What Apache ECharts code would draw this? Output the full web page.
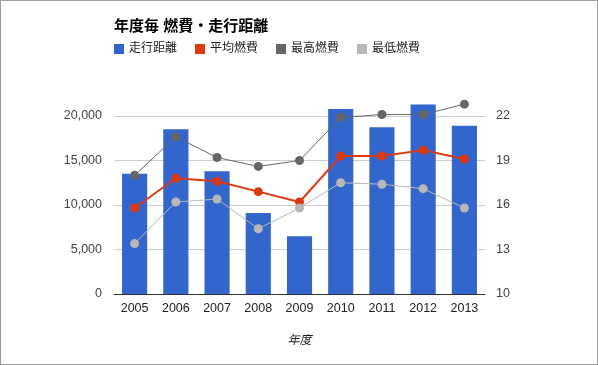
<!DOCTYPE html>
<html><head><meta charset="utf-8">
<script src="https://cdn.jsdelivr.net/npm/echarts@6/dist/echarts.min.js"></script>
<style>
html,body{margin:0;padding:0;background:#fff;}
#wrap{position:relative;width:598px;height:365px;}
#c{width:598px;height:365px;}
#frame{position:absolute;left:0;top:0;width:598px;height:365px;box-sizing:border-box;border:1px solid #9e9e9e;pointer-events:none;}
</style></head>
<body><div id="wrap"><div id="c"></div><div id="frame"></div></div>
<script>
const years = ['2005','2006','2007','2008','2009','2010','2011','2012','2013'];
const distance = [13500, 18500, 13800, 9100, 6500, 20800, 18750, 21300, 18900];
const avgFuel = [15.8, 17.8, 17.6, 16.9, 16.2, 19.3, 19.3, 19.7, 19.1];
const maxFuel = [18.0, 20.6, 19.2, 18.6, 19.0, 21.9, 22.1, 22.1, 22.8];
const minFuel = [13.4, 16.2, 16.4, 14.4, 15.8, 17.5, 17.4, 17.1, 15.8];
const seriesNames = ['走行距離', '平均燃費', '最高燃費', '最低燃費'];
const titleText = '年度毎 燃費・走行距離';
const xAxisName = '年度';

const FONT = "Arial, 'Liberation Sans', 'Noto Sans CJK JP', sans-serif";
const chart = echarts.init(document.getElementById('c'), null, {renderer: 'canvas'});
chart.setOption({
  animation: false,
  textStyle: {fontFamily: FONT},
  color: ['#3366cc', '#dc3912', '#666666', '#b7b7b7'],
  title: {
    text: titleText, left: 109, top: 14,
    textStyle: {fontSize: 15, fontWeight: 'bold', color: '#000', fontFamily: FONT}
  },
  legend: {
    data: seriesNames, left: 109, top: 38,
    itemWidth: 10, itemHeight: 10, itemGap: 18, icon: 'rect',
    textStyle: {fontSize: 12, color: '#222', fontFamily: FONT}
  },
  grid: {left: 114, right: 113, top: 116, bottom: 71},
  xAxis: {
    type: 'category', data: years,
    name: xAxisName, nameLocation: 'middle', nameGap: 41,
    nameTextStyle: {fontStyle: 'italic', fontSize: 12, color: '#222', fontFamily: FONT},
    axisLine: {lineStyle: {color: '#333', width: 1}},
    axisTick: {show: false},
    axisLabel: {fontSize: 12.5, color: '#222', margin: 8}
  },
  yAxis: [
    {type: 'value', min: 0, max: 20000, interval: 5000,
     axisLine: {show: false}, axisTick: {show: false},
     axisLabel: {fontSize: 12.5, color: '#444', margin: 12,
       formatter: v => v.toString().replace(/\B(?=(\d{3})+(?!\d))/g, ',')},
     splitLine: {lineStyle: {color: '#cccccc'}}},
    {type: 'value', min: 10, max: 22, interval: 3,
     axisLine: {show: false}, axisTick: {show: false},
     axisLabel: {fontSize: 12.5, color: '#444', margin: 11},
     splitLine: {show: false}}
  ],
  series: [
    {name: seriesNames[0], type: 'bar', data: distance, yAxisIndex: 0,
     barCategoryGap: '39%', clip: false, itemStyle: {color: '#3366cc'}},
    {name: seriesNames[1], type: 'line', data: avgFuel, yAxisIndex: 1, clip: false,
     symbol: 'circle', symbolSize: 9, lineStyle: {width: 2, color: '#dc3912'},
     itemStyle: {color: '#dc3912'}},
    {name: seriesNames[2], type: 'line', data: maxFuel, yAxisIndex: 1, clip: false,
     symbol: 'circle', symbolSize: 9, lineStyle: {width: 1, color: '#666666'},
     itemStyle: {color: '#666666'}},
    {name: seriesNames[3], type: 'line', data: minFuel, yAxisIndex: 1, clip: false,
     symbol: 'circle', symbolSize: 9, lineStyle: {width: 1, color: '#b7b7b7'},
     itemStyle: {color: '#b7b7b7'}}
  ]
});
</script></body></html>
